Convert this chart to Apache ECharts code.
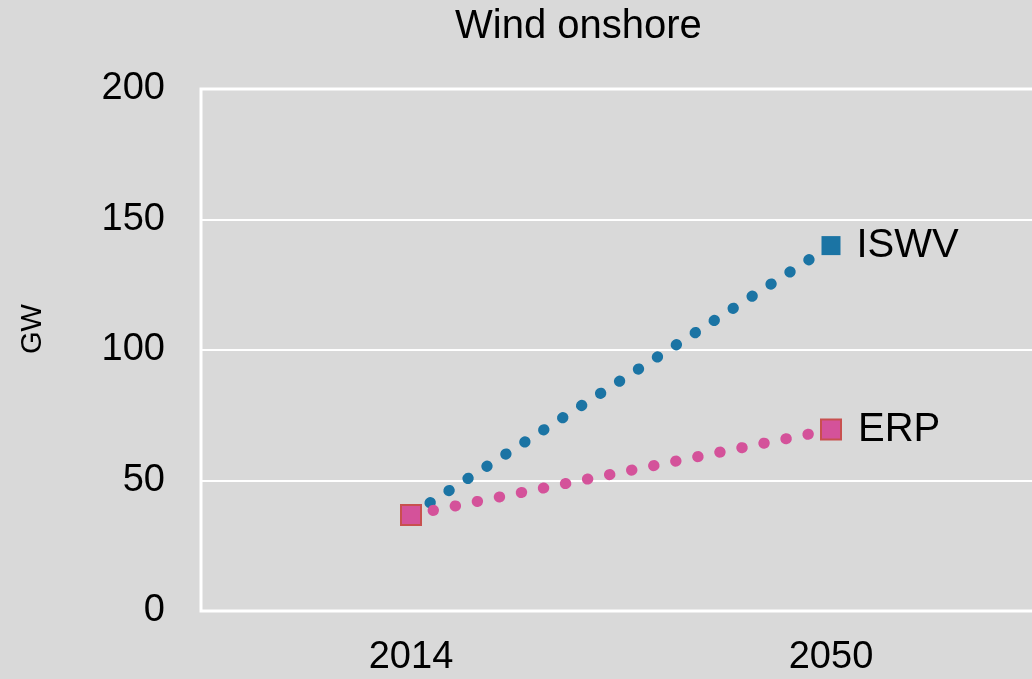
<!DOCTYPE html>
<html>
<head>
<meta charset="utf-8">
<script src="https://cdn.jsdelivr.net/npm/echarts@6/dist/echarts.min.js"></script>
<style>
  html, body { margin: 0; padding: 0; background: #d9d9d9; overflow: hidden; }
  #chart { width: 1032px; height: 679px; }
</style>
</head>
<body>
<div id="chart"></div>
<script>
const years = ["2014", "2050"];
const iswv = [36.8, 140];
const erp = [36.8, 69.5];
const yTicks = { min: 0, max: 200, interval: 50 };
const yName = "GW";

const COLORS = {
  bg: "#d9d9d9",
  grid: "#ffffff",
  text: "#000000",
  iswv: "#1b74a4",
  erp: "#d4529a",
  erpBorder: "#c8504f",
};

const FONT = "Liberation Sans, Arial, sans-serif";

function dottedSeries(name, data, color, symbolSize, border) {
  return {
    name,
    type: "line",
    data,
    symbol: "rect",
    symbolSize,
    showAllSymbol: true,
    lineStyle: { color, width: 11, type: [0.5, 22], cap: "round" },
    itemStyle: { color, borderColor: border || color, borderWidth: border ? 2 : 0 },
    label: {
      show: true,
      position: "right",
      distance: 16,
      color: COLORS.text,
      fontSize: 40,
      fontFamily: FONT,
      formatter: (p) => (p.dataIndex === data.length - 1 ? name : ""),
    },
    animation: false,
  };
}

const chart = echarts.init(document.getElementById("chart"));
chart.setOption({
  backgroundColor: COLORS.bg,
  title: {
    text: "Wind onshore",
    left: 450,
    top: 2,
    textStyle: { fontSize: 40, fontWeight: "normal", color: COLORS.text, fontFamily: FONT },
  },
  // axis name placed by hand: it sits above the middle of the axis in the original
  graphic: [
    {
      type: "text",
      x: 33,
      y: 329,
      rotation: Math.PI / 2,
      style: {
        text: yName,
        fill: COLORS.text,
        fontSize: 29,
        fontFamily: FONT,
        align: "center",
        verticalAlign: "middle",
      },
    },
  ],
  grid: {
    left: 201,
    right: -9,
    top: 89,
    bottom: 68,
    outerBoundsMode: "none",
    show: true,
    borderColor: COLORS.grid,
    borderWidth: 3,
    containLabel: false,
  },
  xAxis: {
    type: "category",
    data: years,
    boundaryGap: true,
    axisLine: { show: false },
    axisTick: { show: false },
    axisLabel: { color: COLORS.text, fontSize: 38, fontFamily: FONT, margin: 28 },
  },
  yAxis: {
    type: "value",
    ...yTicks,
    axisLine: { show: false },
    axisTick: { show: false },
    axisLabel: { color: COLORS.text, fontSize: 38, fontFamily: FONT, margin: 36 },
    splitLine: { lineStyle: { color: COLORS.grid, width: 2 } },
  },
  series: [
    dottedSeries("ISWV", iswv, COLORS.iswv, 19),
    dottedSeries("ERP", erp, COLORS.erp, 20, COLORS.erpBorder),
  ],
});
</script>
</body>
</html>
